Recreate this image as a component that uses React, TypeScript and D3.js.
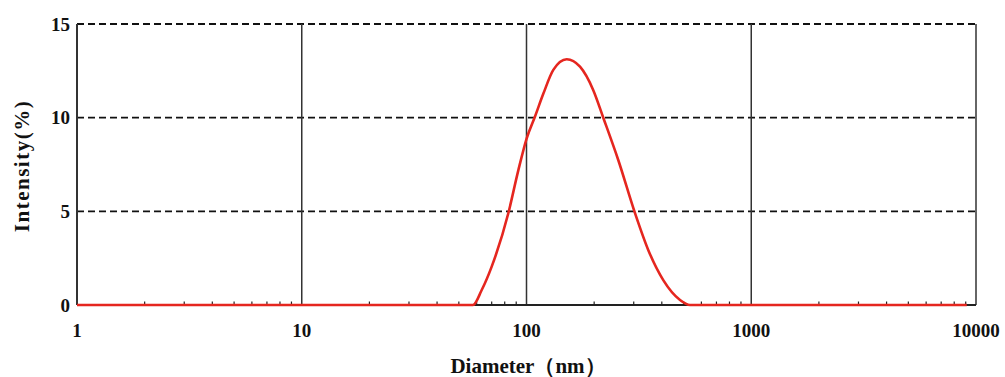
import React from "react";
import * as d3 from "d3";

const diameters = [1, 57.8, 63.2, 70, 83, 92, 100.2, 109, 119, 131.6, 151, 173, 198, 220, 256, 304, 348, 406, 482, 534, 9100];
const intensities = [0, 0, 0.8, 2.05, 4.9, 7.2, 8.9, 10.05, 11.3, 12.55, 13.12, 12.72, 11.48, 9.97, 7.74, 4.9, 2.94, 1.33, 0.27, 0, 0];
const xTicks = [1, 10, 100, 1000, 10000];
const yTicks = [0, 5, 10, 15];

const W = 1005, H = 377;
const L = 77, R = 976, T = 24, B = 305;

export default function App() {
  const x = d3.scaleLog().domain([1, 10000]).range([L, R]);
  const y = d3.scaleLinear().domain([0, 15]).range([B, T]);
  const pts = diameters.map((d, i) => [d, intensities[i]] as [number, number]);
  const line = d3.line<[number, number]>().x(d => x(d[0])).y(d => y(d[1])).curve(d3.curveMonotoneX);
  const minor: number[] = [];
  for (let e = 0; e < 4; e++) for (let k = 2; k <= 9; k++) minor.push(k * Math.pow(10, e));
  const font = "'Liberation Serif', 'Times New Roman', serif";
  return (
    <svg width={W} height={H} style={{ position: "absolute", left: 0, top: 0, background: "#fff" }}>
      {yTicks.filter(v => v > 0).map(v => (
        <line key={"h" + v} x1={L} x2={R} y1={y(v)} y2={y(v)} stroke="#111" strokeWidth={1.8} strokeDasharray="7,4" />
      ))}
      {xTicks.filter(v => v > 1 && v < 10000).map(v => (
        <line key={"v" + v} x1={x(v)} x2={x(v)} y1={T} y2={B} stroke="#333" strokeWidth={1.5} />
      ))}
      <line x1={L} x2={L} y1={T} y2={B} stroke="#333" strokeWidth={2} />
      <line x1={R} x2={R} y1={T} y2={B} stroke="#333" strokeWidth={1.5} />
      <line x1={L} x2={R} y1={B} y2={B} stroke="#222" strokeWidth={2} />
      {minor.map(v => (
        <line key={"m" + v} x1={x(v)} x2={x(v)} y1={B} y2={B - 3.5} stroke="#222" strokeWidth={1.2} />
      ))}
      <path d={line(pts) || ""} fill="none" stroke="#e5261f" strokeWidth={2.6} strokeLinejoin="round" />
      {yTicks.map(v => (
        <text key={"yl" + v} x={70} y={y(v)} dy="0.35em" textAnchor="end" fontFamily={font} fontWeight="bold" fontSize={19} fill="#111">{v}</text>
      ))}
      {xTicks.map(v => (
        <text key={"xl" + v} x={x(v)} y={330} dy="0.35em" textAnchor="middle" fontFamily={font} fontWeight="bold" fontSize={19} fill="#111">{v}</text>
      ))}
      <text x={528} y={366} dy="0.35em" textAnchor="middle" fontFamily={font} fontWeight="bold" fontSize={21} fill="#111">Diameter（nm）</text>
      <text transform={`translate(22,166) rotate(-90)`} dy="0.35em" textAnchor="middle" fontFamily={font} fontWeight="bold" fontSize={21} letterSpacing={1.5} fill="#111">Intensity(%)</text>
    </svg>
  );
}
